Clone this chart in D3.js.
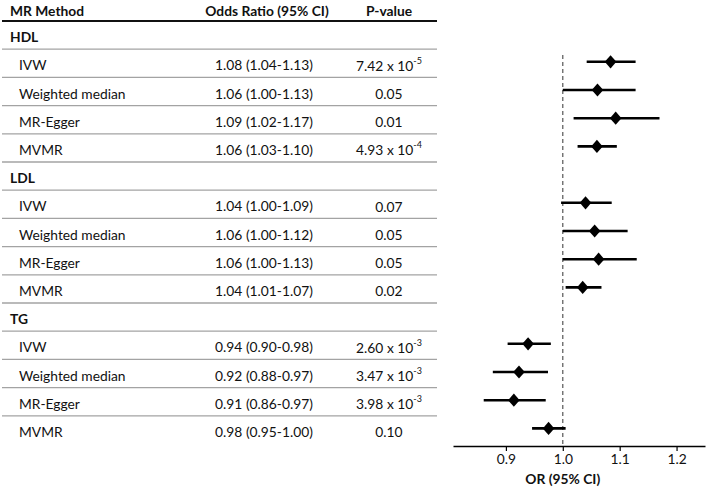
<!DOCTYPE html>
<html><head><meta charset="utf-8">
<script src="https://cdn.jsdelivr.net/npm/d3@7/dist/d3.min.js"></script>
<style>
html,body{margin:0;padding:0;background:#fff;}
svg text{font-family:Lato,"Open Sans",sans-serif;fill:#111;}
</style></head><body>
<svg id="c" width="707" height="487"></svg>
<script>
// ---- data ----
const groups = ["HDL", "LDL", "TG"];
const methods = ["IVW", "Weighted median", "MR-Egger", "MVMR"];
const orLabels = [
  ["1.08 (1.04-1.13)", "1.06 (1.00-1.13)", "1.09 (1.02-1.17)", "1.06 (1.03-1.10)"],
  ["1.04 (1.00-1.09)", "1.06 (1.00-1.12)", "1.06 (1.00-1.13)", "1.04 (1.01-1.07)"],
  ["0.94 (0.90-0.98)", "0.92 (0.88-0.97)", "0.91 (0.86-0.97)", "0.98 (0.95-1.00)"]
];
// p-values: [mantissa text, exponent or null]
const pValues = [
  [["7.42 x 10", "-5"], ["0.05", null], ["0.01", null], ["4.93 x 10", "-4"]],
  [["0.07", null], ["0.05", null], ["0.05", null], ["0.02", null]],
  [["2.60 x 10", "-3"], ["3.47 x 10", "-3"], ["3.98 x 10", "-3"], ["0.10", null]]
];
const orEst = [[1.084, 1.061, 1.093, 1.060], [1.040, 1.056, 1.063, 1.035], [0.939, 0.923, 0.914, 0.975]];
const ciLow = [[1.042, 1.000, 1.019, 1.026], [0.997, 1.000, 1.000, 1.005], [0.903, 0.877, 0.861, 0.946]];
const ciHigh = [[1.128, 1.128, 1.170, 1.095], [1.086, 1.114, 1.130, 1.068], [0.979, 0.974, 0.970, 1.005]];
const xTicks = [0.9, 1.0, 1.1, 1.2];
const headers = ["MR Method", "Odds Ratio (95% CI)", "P-value"];
const xLabel = "OR (95% CI)";

// ---- build rows ----
const rows = [];
groups.forEach((g, gi) => {
  rows.push({type: "group", label: g});
  methods.forEach((m, mi) => rows.push({
    type: "item", label: m, orl: orLabels[gi][mi], p: pValues[gi][mi],
    est: orEst[gi][mi], lo: ciLow[gi][mi], hi: ciHigh[gi][mi]
  }));
});

const svg = d3.select("#c");
const top0 = 21, rh = 28.2;
const y = d3.scaleBand().domain(d3.range(rows.length)).range([top0, top0 + rh * rows.length]).padding(0);
const yc = i => y(i) + y.bandwidth() / 2;
const x = d3.scaleLinear().domain([0.807, 1.25]).range([453, 705]);
const colOR = 264, colP = 389, tableL = 2, tableR = 437;
const fs = 13.8;

// header
svg.append("text").attr("x", 10).attr("y", 10).attr("dominant-baseline", "central")
  .attr("font-weight", "bold").attr("font-size", fs).text(headers[0]);
svg.append("text").attr("x", colOR + 3).attr("y", 10).attr("dominant-baseline", "central")
  .attr("text-anchor", "middle").attr("font-weight", "bold").attr("font-size", fs).text(headers[1]);
svg.append("text").attr("x", colP).attr("y", 10).attr("dominant-baseline", "central")
  .attr("text-anchor", "middle").attr("font-weight", "bold").attr("font-size", fs).text(headers[2]);
svg.append("line").attr("x1", tableL).attr("x2", tableR).attr("y1", top0).attr("y2", top0)
  .attr("stroke", "#111").attr("stroke-width", 2.2);

// row separators
rows.forEach((r, i) => {
  if (i < rows.length - 1) {
    svg.append("line").attr("x1", tableL).attr("x2", tableR)
      .attr("y1", y(i) + rh).attr("y2", y(i) + rh)
      .attr("stroke", "#a3a3a3").attr("stroke-width", 1.3);
  }
});

// row text
rows.forEach((r, i) => {
  const cy = yc(i) + 1.5;
  if (r.type === "group") {
    svg.append("text").attr("x", 10).attr("y", cy).attr("dominant-baseline", "central")
      .attr("font-weight", "bold").attr("font-size", fs).text(r.label);
  } else {
    svg.append("text").attr("x", 19).attr("y", cy).attr("dominant-baseline", "central")
      .attr("font-size", fs).text(r.label);
    svg.append("text").attr("x", colOR).attr("y", cy).attr("dominant-baseline", "central")
      .attr("text-anchor", "middle").attr("font-size", fs).text(r.orl);
    const t = svg.append("text").attr("x", colP).attr("y", cy).attr("dominant-baseline", "central")
      .attr("text-anchor", "middle").attr("font-size", fs);
    t.append("tspan").text(r.p[0]);
    if (r.p[1]) {
      t.append("tspan").attr("font-size", 9).attr("dy", -5).text(r.p[1]);
    }
  }
});

// reference line
svg.append("line").attr("x1", x(1)).attr("x2", x(1)).attr("y1", 55).attr("y2", 446)
  .attr("stroke", "#555").attr("stroke-width", 1.2).attr("stroke-dasharray", "4,3");

// CI lines and diamonds
const items = rows.map((r, i) => Object.assign({i}, r)).filter(r => r.type === "item");
svg.append("g").selectAll("line").data(items).join("line")
  .attr("x1", d => x(d.lo)).attr("x2", d => x(d.hi))
  .attr("y1", d => yc(d.i) - 1.5).attr("y2", d => yc(d.i) - 1.5)
  .attr("stroke", "#000").attr("stroke-width", 2.6);
const dw = 5.8, dh = 6.6;
svg.append("g").selectAll("path").data(items).join("path")
  .attr("d", `M0,${-dh}L${dw},0L0,${dh}L${-dw},0Z`)
  .attr("transform", d => `translate(${x(d.est)},${yc(d.i) - 1.5})`)
  .attr("fill", "#000");

// axis
const ax = svg.append("g").attr("transform", "translate(0,446)")
  .call(d3.axisBottom(x).tickValues(xTicks).tickFormat(d3.format(".1f")).tickSize(5).tickSizeOuter(0));
ax.select(".domain").attr("stroke", "#000").attr("stroke-width", 1.5);
ax.selectAll(".tick line").attr("stroke", "#000").attr("stroke-width", 1.2);
ax.selectAll(".tick text").attr("font-size", fs).attr("font-family", "Lato,'Open Sans',sans-serif")
  .attr("fill", "#111").attr("dy", "0.75em");
svg.append("text").attr("x", x(1)).attr("y", 478).attr("dominant-baseline", "central")
  .attr("text-anchor", "middle").attr("font-weight", "bold").attr("font-size", fs).text(xLabel);
</script>
</body></html>
